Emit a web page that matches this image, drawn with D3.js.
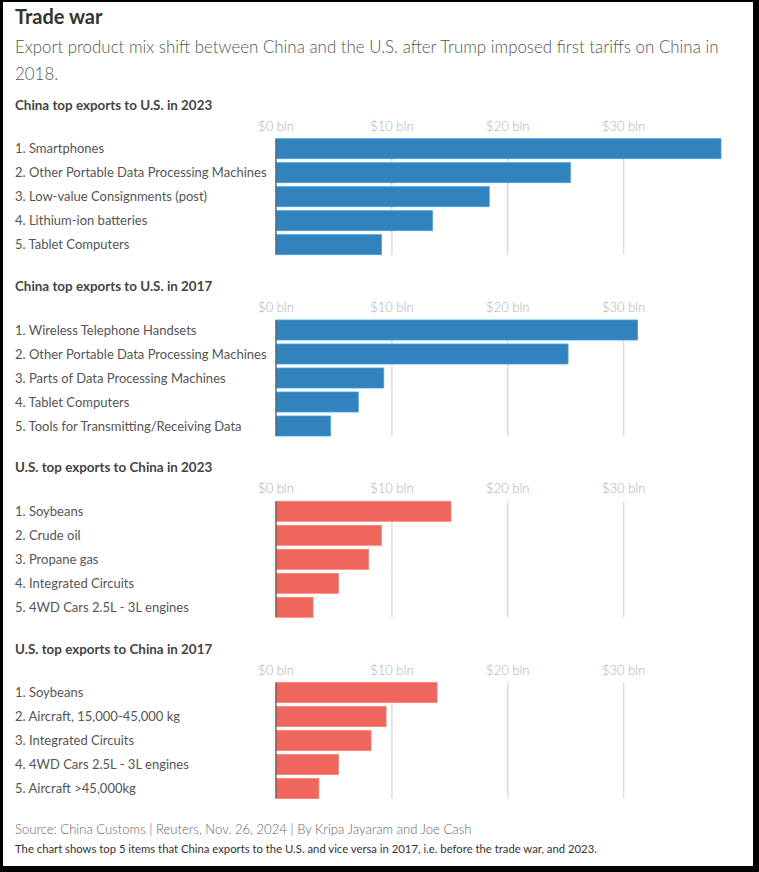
<!DOCTYPE html>
<html>
<head>
<meta charset="utf-8">
<script src="https://cdn.jsdelivr.net/npm/d3@7"></script>
<style>
  body { margin: 0; background: #000; }
  svg { display: block; font-family: Lato, "Open Sans", sans-serif; }
</style>
</head>
<body>
<svg id="chart" width="759" height="872"></svg>
<script>
// panel titles and items (values in $ bln)
const panelTitles = [
  'China top exports to U.S. in 2023',
  'China top exports to U.S. in 2017',
  'U.S. top exports to China in 2023',
  'U.S. top exports to China in 2017'
];
const cn2023Items = ['1. Smartphones', '2. Other Portable Data Processing Machines', '3. Low-value Consignments (post)', '4. Lithium-ion batteries', '5. Tablet Computers'];
const cn2023Values = [38.4, 25.4, 18.4, 13.5, 9.1];
const cn2017Items = ['1. Wireless Telephone Handsets', '2. Other Portable Data Processing Machines', '3. Parts of Data Processing Machines', '4. Tablet Computers', '5. Tools for Transmitting/Receiving Data'];
const cn2017Values = [31.2, 25.2, 9.3, 7.1, 4.7];
const us2023Items = ['1. Soybeans', '2. Crude oil', '3. Propane gas', '4. Integrated Circuits', '5. 4WD Cars 2.5L - 3L engines'];
const us2023Values = [15.1, 9.1, 8.0, 5.4, 3.2];
const us2017Items = ['1. Soybeans', '2. Aircraft, 15,000-45,000 kg', '3. Integrated Circuits', '4. 4WD Cars 2.5L - 3L engines', '5. Aircraft >45,000kg'];
const us2017Values = [13.9, 9.5, 8.2, 5.4, 3.7];
const tickValues = [0, 10, 20, 30];

const panels = [
  { items: cn2023Items, values: cn2023Values, color: '#3282bd' },
  { items: cn2017Items, values: cn2017Values, color: '#3282bd' },
  { items: us2023Items, values: us2023Values, color: '#ef665d' },
  { items: us2017Items, values: us2017Values, color: '#ef665d' }
];

const svg = d3.select('#chart');
const left = 15;
const x0 = 276, x1 = 721;

// white card inside black frame
svg.append('rect').attr('x', 3).attr('y', 2).attr('width', 750).attr('height', 864).attr('fill', '#fff');

const x = d3.scaleLinear()
  .domain([0, d3.max(cn2023Values)])
  .range([x0, x1]);

svg.append('text').attr('x', left).attr('y', 24)
  .attr('font-size', 20).attr('font-weight', 700).attr('fill', '#333')
  .text('Trade war');

const subLines = ['Export product mix shift between China and the U.S. after Trump imposed first tariffs on China in', '2018.'];
svg.append('text').attr('x', left).attr('y', 53)
  .attr('font-size', 16.9).attr('font-weight', 300).attr('fill', '#555')
  .selectAll('tspan').data(subLines).join('tspan')
  .attr('x', left).attr('dy', (d, i) => i ? 27 : 0).text(d => d);

const panelTop = 138.7, panelStep = 181.3;

panels.forEach((p, pi) => {
  const top = panelTop + pi * panelStep;
  const g = svg.append('g');

  const y = d3.scaleBand()
    .domain(p.items)
    .range([top, top + 116])
    .paddingInner(4 / 24);

  g.append('text').attr('x', left).attr('y', top - 29)
    .attr('font-size', 13.4).attr('font-weight', 700).attr('fill', '#444')
    .text(panelTitles[pi]);

  // grid lines + tick labels
  g.selectAll('line.grid').data(tickValues.slice(1)).join('line')
    .attr('class', 'grid')
    .attr('x1', d => x(d)).attr('x2', d => x(d))
    .attr('y1', top).attr('y2', top + 116)
    .attr('stroke', '#dddddd').attr('stroke-width', 1.5);

  g.selectAll('text.tick').data(tickValues).join('text')
    .attr('class', 'tick')
    .attr('x', d => x(d)).attr('y', top - 8)
    .attr('text-anchor', 'middle')
    .attr('font-size', 13).attr('font-weight', 300).attr('fill', '#b0b0b0')
    .text(d => `$${d} bln`);

  g.selectAll('rect.bar').data(p.values).join('rect')
    .attr('class', 'bar')
    .attr('x', x(0))
    .attr('y', (d, i) => y(p.items[i]))
    .attr('width', d => x(d) - x(0))
    .attr('height', y.bandwidth())
    .attr('fill', p.color)
    .attr('stroke', d3.color(p.color).brighter(0.6))
    .attr('stroke-width', 0.8);

  g.selectAll('text.label').data(p.items).join('text')
    .attr('class', 'label')
    .attr('x', left)
    .attr('y', d => y(d) + y.bandwidth() / 2)
    .attr('dy', '0.35em')
    .attr('font-size', 13).attr('fill', '#555')
    .text(d => d);

  g.append('line')
    .attr('x1', x(0)).attr('x2', x(0))
    .attr('y1', top).attr('y2', top + 116)
    .attr('stroke', '#666').attr('stroke-width', 1.5);
});

svg.append('text').attr('x', left).attr('y', 834)
  .attr('font-size', 13.1).attr('font-weight', 300).attr('fill', '#666')
  .text('Source: China Customs | Reuters, Nov. 26, 2024 | By Kripa Jayaram and Joe Cash');

svg.append('text').attr('x', left).attr('y', 853)
  .attr('font-size', 11.3).attr('fill', '#333')
  .text('The chart shows top 5 items that China exports to the U.S. and vice versa in 2017, i.e. before the trade war, and 2023.');
</script>
</body>
</html>
